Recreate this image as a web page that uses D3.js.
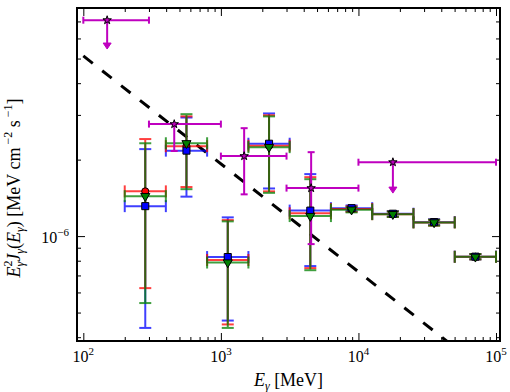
<!DOCTYPE html>
<html>
<head>
<meta charset="utf-8">
<script src="https://cdn.jsdelivr.net/npm/d3@7"></script>
<style>
  body { margin: 0; background: white; }
  svg { display: block; font-family: "Liberation Serif", "Times New Roman", serif; }
</style>
</head>
<body>
<div id="chart"></div>
<script>
// energy bins (MeV) for the red / green / blue analyses
var eCenter = [282, 562, 1122, 2239, 4467, 8913, 17783, 35481, 70795];
var eLow    = [200, 398, 794, 1585, 3162, 6310, 12589, 25119, 50119];
var eHigh   = [398, 794, 1585, 3162, 6310, 12589, 25119, 50119, 100000];

var redFlux  = [1.50e-6, 2.26e-6, 8.05e-7, 2.27e-6, 1.23e-6, 1.278e-6, 1.22e-6, 1.132e-6, 8.29e-7];
var redHi    = [2.41e-6, 2.96e-6, 1.156e-6, 2.99e-6, 1.706e-6, 1.31e-6, 1.25e-6, 1.16e-6, 8.5e-7];
var redLo    = [6.24e-7, 1.56e-6, 4.49e-7, 1.50e-6, 7.48e-7, 1.245e-6, 1.19e-6, 1.10e-6, 8.1e-7];

var greenFlux = [1.436e-6, 2.32e-6, 7.87e-7, 2.24e-6, 1.199e-6, 1.271e-6, 1.22e-6, 1.132e-6, 8.29e-7];
var greenHi   = [2.32e-6, 3.02e-6, 1.143e-6, 2.96e-6, 1.675e-6, 1.30e-6, 1.25e-6, 1.16e-6, 8.5e-7];
var greenLo   = [5.45e-7, 1.53e-6, 4.35e-7, 1.48e-6, 7.34e-7, 1.24e-6, 1.19e-6, 1.10e-6, 8.1e-7];

var blueFlux = [1.312e-6, 2.17e-6, 8.27e-7, 2.31e-6, 1.26e-6, 1.288e-6, 1.225e-6, 1.135e-6, 8.3e-7];
var blueHi   = [2.20e-6, 2.93e-6, 1.185e-6, 3.04e-6, 1.754e-6, 1.32e-6, 1.255e-6, 1.165e-6, 8.5e-7];
var blueLo   = [4.35e-7, 1.43e-6, 4.65e-7, 1.54e-6, 7.62e-7, 1.255e-6, 1.195e-6, 1.105e-6, 8.1e-7];

// magenta points (upper limits have ul = true, arrow end stored in magLo)
var magE    = [149, 458, 1476, 4530, 17800];
var magELow = [100, 300, 1000, 3000, 10000];
var magEHigh= [300, 1000, 3000, 10000, 100000];
var magFlux = [7.08e-6, 2.76e-6, 2.065e-6, 1.545e-6, 1.954e-6];
var magHi   = [7.08e-6, 2.76e-6, 2.66e-6, 2.14e-6, 1.954e-6];
var magLo   = [5.5e-6, 2.163e-6, 1.46e-6, 9.3e-7, 1.49e-6];
var magUL   = [true, false, false, false, true];

// dashed reference line
var lineE = [100, 100000];
var lineF = [5.12e-6, 2.72e-7];

var xMajor = [1e2, 1e3, 1e4, 1e5];
var xMajorExp = ["2", "3", "4", "5"];
var yMajor = [1e-6];
var yMajorExp = ["\u22126"];

var width = 510, height = 392;
var margin = {left: 77, right: 10, top: 8, bottom: 51};
var pw = width - margin.left - margin.right;   // 423
var ph = height - margin.top - margin.bottom;  // 333

var svg = d3.select("#chart").append("svg")
  .attr("width", width)
  .attr("height", height);

var g = svg.append("g")
  .attr("transform", "translate(" + margin.left + "," + margin.top + ")");

var xscale = d3.scaleLog()
  .domain([Math.pow(10, 1.954), Math.pow(10, 5.029)])
  .range([0, pw]);

var yscale = d3.scaleLog()
  .domain([Math.pow(10, -6.413), Math.pow(10, -5.102)])
  .range([ph, 0]);

g.append("clipPath").attr("id", "clip")
  .append("rect").attr("width", pw).attr("height", ph);

// ticks, all inward, on four sides
var xMinor = xscale.ticks().filter(function (d) {
  return xMajor.indexOf(d) < 0 && xscale(d) > 1 && xscale(d) < pw - 1;
});
var yMinor = yscale.ticks().filter(function (d) {
  return Math.abs(Math.log10(d) - Math.round(Math.log10(d))) > 1e-6 && yscale(d) > 1 && yscale(d) < ph - 1;
});

function tickAxis(axis, vals, size, transform) {
  var a = g.append("g")
    .attr("transform", transform)
    .call(axis.tickValues(vals).tickSizeInner(size).tickSizeOuter(0).tickFormat(""));
  a.select(".domain").remove();
  a.selectAll("line").attr("stroke", "black").attr("stroke-width", 1);
}
tickAxis(d3.axisBottom(xscale), xMajor, -8, "translate(0," + ph + ")");
tickAxis(d3.axisBottom(xscale), xMinor, -4, "translate(0," + ph + ")");
tickAxis(d3.axisTop(xscale), xMajor, -8, "translate(0,0)");
tickAxis(d3.axisTop(xscale), xMinor, -4, "translate(0,0)");
tickAxis(d3.axisLeft(yscale), yMajor, -8, "translate(0,0)");
tickAxis(d3.axisLeft(yscale), yMinor, -4, "translate(0,0)");
tickAxis(d3.axisRight(yscale), yMajor, -8, "translate(" + pw + ",0)");
tickAxis(d3.axisRight(yscale), yMinor, -4, "translate(" + pw + ",0)");

// tick labels 10^n
xMajor.forEach(function (d, i) {
  var t = g.append("text")
    .attr("x", xscale(d))
    .attr("y", ph + 21)
    .attr("text-anchor", "middle")
    .style("font-size", "16px");
  t.append("tspan").text("10");
  t.append("tspan").attr("dy", -7).style("font-size", "11px").text(xMajorExp[i]);
});
yMajor.forEach(function (d, i) {
  var t = g.append("text")
    .attr("x", -8)
    .attr("y", yscale(d) + 7)
    .attr("text-anchor", "end")
    .style("font-size", "16px");
  t.append("tspan").text("10");
  t.append("tspan").attr("dy", -7).style("font-size", "11px").text(yMajorExp[i]);
});

// dashed line
g.append("path")
  .datum(d3.zip(lineE, lineF))
  .attr("clip-path", "url(#clip)")
  .attr("fill", "none")
  .attr("stroke", "black")
  .attr("stroke-width", 3)
  .attr("stroke-dasharray", "12,12")
  .attr("d", d3.line()
    .x(function (d) { return xscale(d[0]); })
    .y(function (d) { return yscale(d[1]); }));

// error bars for one series
function errorbars(color, flux, hi, lo, cap, alpha) {
  var eb = g.append("g")
    .attr("stroke", color)
    .attr("stroke-width", 2)
    .attr("opacity", alpha)
    .attr("clip-path", "url(#clip)");
  eCenter.forEach(function (e, i) {
    var cx = xscale(e), cy = yscale(flux[i]);
    var x0 = xscale(eLow[i]), x1 = xscale(eHigh[i]);
    var yt = yscale(hi[i]), yb = yscale(lo[i]);
    eb.append("line").attr("x1", x0).attr("x2", x1).attr("y1", cy).attr("y2", cy);
    eb.append("line").attr("x1", cx).attr("x2", cx).attr("y1", yt).attr("y2", yb);
    eb.append("line").attr("x1", x0).attr("x2", x0).attr("y1", cy - cap).attr("y2", cy + cap);
    eb.append("line").attr("x1", x1).attr("x2", x1).attr("y1", cy - cap).attr("y2", cy + cap);
    eb.append("line").attr("x1", cx - cap).attr("x2", cx + cap).attr("y1", yt).attr("y2", yt);
    eb.append("line").attr("x1", cx - cap).attr("x2", cx + cap).attr("y1", yb).attr("y2", yb);
  });
}
errorbars("#0000ff", blueFlux, blueHi, blueLo, 6, 0.75);
errorbars("#ff0000", redFlux, redHi, redLo, 6, 0.75);
errorbars("#008000", greenFlux, greenHi, greenLo, 6, 0.75);

// magenta points with upper limits
var mg = g.append("g").attr("stroke", "#bf00bf").attr("stroke-width", 2).attr("fill", "#bf00bf");
magE.forEach(function (e, i) {
  var cx = xscale(e), cy = yscale(magFlux[i]);
  var x0 = xscale(magELow[i]), x1 = xscale(magEHigh[i]);
  var yt = yscale(magHi[i]), yb = yscale(magLo[i]);
  mg.append("line").attr("x1", x0).attr("x2", x1).attr("y1", cy).attr("y2", cy);
  mg.append("line").attr("x1", x0).attr("x2", x0).attr("y1", cy - 3.5).attr("y2", cy + 3.5);
  mg.append("line").attr("x1", x1).attr("x2", x1).attr("y1", cy - 3.5).attr("y2", cy + 3.5);
  if (magUL[i]) {
    mg.append("line").attr("x1", cx).attr("x2", cx).attr("y1", cy).attr("y2", yb - 3);
    mg.append("path").attr("stroke-width", 1)
      .attr("d", "M" + (cx - 4) + "," + (yb - 5) + "L" + (cx + 4) + "," + (yb - 5) + "L" + cx + "," + (yb + 1) + "Z");
  } else {
    mg.append("line").attr("x1", cx).attr("x2", cx).attr("y1", yt).attr("y2", yb);
    if (yt < cy - 1) mg.append("line").attr("x1", cx - 3.5).attr("x2", cx + 3.5).attr("y1", yt).attr("y2", yt);
    mg.append("line").attr("x1", cx - 3.5).attr("x2", cx + 3.5).attr("y1", yb).attr("y2", yb);
  }
});

// markers
function markers(type, color, flux, size) {
  g.append("g").selectAll("path")
    .data(eCenter)
    .enter().append("path")
    .attr("transform", function (d, i) { return "translate(" + xscale(d) + "," + yscale(flux[i]) + ")" + (type === d3.symbolTriangle ? " rotate(180)" : ""); })
    .attr("d", d3.symbol().type(type).size(size))
    .attr("fill", color)
    .attr("stroke", "black")
    .attr("stroke-width", 1);
}
markers(d3.symbolCircle, "#ff0000", redFlux, 40);
markers(d3.symbolSquare, "#0000ff", blueFlux, 50);
markers(d3.symbolTriangle, "#008000", greenFlux, 36);

g.append("g").selectAll("path")
  .data(magE)
  .enter().append("path")
  .attr("transform", function (d, i) { return "translate(" + xscale(d) + "," + yscale(magFlux[i]) + ")"; })
  .attr("d", d3.symbol().type(d3.symbolStar).size(22))
  .attr("fill", "#bf00bf")
  .attr("stroke", "black")
  .attr("stroke-width", 1);

// frame
g.append("rect")
  .attr("width", pw).attr("height", ph)
  .attr("fill", "none").attr("stroke", "black").attr("stroke-width", 2);

// axis labels
var xl = svg.append("text")
  .attr("x", margin.left + pw / 2)
  .attr("y", 386)
  .attr("text-anchor", "middle")
  .style("font-size", "18px");
xl.append("tspan").style("font-style", "italic").text("E");
xl.append("tspan").attr("dy", 4).style("font-size", "12px").style("font-style", "italic").text("\u03b3");
xl.append("tspan").attr("dy", -4).text(" [MeV]");

var yl = svg.append("text")
  .attr("transform", "translate(20,188) rotate(-90)")
  .attr("text-anchor", "middle")
  .style("font-size", "18px");
yl.append("tspan").style("font-style", "italic").text("E");
yl.append("tspan").attr("dy", -8).style("font-size", "12px").text("2");
yl.append("tspan").attr("dx", -6).attr("dy", 12).style("font-size", "12px").style("font-style", "italic").text("\u03b3");
yl.append("tspan").attr("dy", -4).style("font-style", "italic").text("J");
yl.append("tspan").attr("dy", 4).style("font-size", "12px").style("font-style", "italic").text("\u03b3");
yl.append("tspan").attr("dy", -4).text("(");
yl.append("tspan").style("font-style", "italic").text("E");
yl.append("tspan").attr("dy", 4).style("font-size", "12px").style("font-style", "italic").text("\u03b3");
yl.append("tspan").attr("dy", -4).text(") [MeV cm");
yl.append("tspan").attr("dy", -8).attr("dx", 3).style("font-size", "12px").text("\u22122");
yl.append("tspan").attr("dy", 8).text(" s");
yl.append("tspan").attr("dy", -8).attr("dx", 3).style("font-size", "12px").text("\u22121");
yl.append("tspan").attr("dy", 8).text("]");
</script>
</body>
</html>
